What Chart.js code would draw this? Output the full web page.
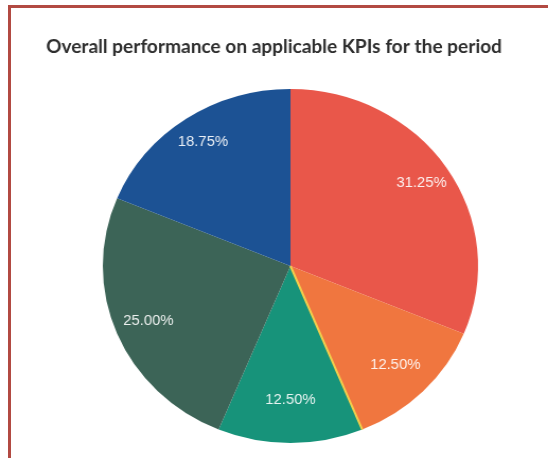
<!DOCTYPE html>
<html>
<head>
<meta charset="utf-8">
<script src="https://cdn.jsdelivr.net/npm/chart.js@4/dist/chart.umd.min.js"></script>
<style>
  html, body { margin: 0; padding: 0; background: #ffffff; }
  #page { position: relative; width: 548px; height: 458px; overflow: hidden; background: #fff; }
  #wrap { position: absolute; left: 0; top: 0; width: 517px; height: 458px; transform: scaleX(1.06); transform-origin: 0 0; }
  #frameTop { position: absolute; left: 8px; top: 5px; width: 540px; height: 3px; background: #b24a42; }
  #frameLeft { position: absolute; left: 8px; top: 5px; width: 3px; height: 453px; background: #b24a42; }
</style>
</head>
<body>
<div id="page">
  <div id="wrap"><canvas id="c" width="517" height="458"></canvas></div>
  <div id="frameTop"></div>
  <div id="frameLeft"></div>
</div>
<script>
const titleText = "Overall performance on applicable KPIs for the period";
const categories = ["Red", "Orange", "Yellow", "Green", "Grey", "Blue"];
const kpiCounts = [5, 2, 0, 2, 4, 3];
const sliceColors = ["#e9574a", "#f0763f", "#f2cf4c", "#17937a", "#3c6457", "#1c5294"];
const labelDistance = [0.84, 0.79, 0, 0.76, 0.82, 0.84];

const titlePlugin = {
  id: "canvasTitle",
  afterDraw(chart) {
    const ctx = chart.ctx;
    ctx.save();
    ctx.font = "bold 18px Lato, 'Open Sans', sans-serif";
    ctx.fillStyle = "#2e2e2e";
    ctx.textAlign = "center";
    ctx.textBaseline = "middle";
    ctx.fillText(titleText, chart.width / 2, 47);
    ctx.restore();
  }
};

const pctLabels = {
  id: "pctLabels",
  afterDatasetsDraw(chart) {
    const ctx = chart.ctx;
    const meta = chart.getDatasetMeta(0);
    const data = chart.data.datasets[0].data;
    const total = data.reduce((a, b) => a + b, 0);
    ctx.save();
    meta.data.forEach((arc, i) => {
      if (data[i] === 0) {
        const a = arc.startAngle;
        ctx.strokeStyle = sliceColors[i];
        ctx.lineWidth = 2;
        ctx.beginPath();
        ctx.moveTo(arc.x, arc.y);
        ctx.lineTo(arc.x + Math.cos(a) * arc.outerRadius, arc.y + Math.sin(a) * arc.outerRadius);
        ctx.stroke();
      }
    });
    ctx.font = "14px 'Liberation Sans', Arial, sans-serif";
    ctx.fillStyle = "rgba(255,255,255,0.9)";
    ctx.textAlign = "center";
    ctx.textBaseline = "middle";
    meta.data.forEach((arc, i) => {
      if (data[i] === 0) return;
      const mid = (arc.startAngle + arc.endAngle) / 2;
      const r = arc.outerRadius * labelDistance[i];
      const txt = (data[i] / total * 100).toFixed(2) + "%";
      ctx.fillText(txt, arc.x + Math.cos(mid) * r, arc.y + Math.sin(mid) * r);
    });
    ctx.restore();
  }
};

new Chart(document.getElementById("c"), {
  type: "pie",
  data: {
    labels: categories,
    datasets: [{
      data: kpiCounts,
      backgroundColor: sliceColors,
      borderWidth: 0
    }]
  },
  options: {
    responsive: false,
    animation: false,
    layout: { padding: { left: 31, right: 0, top: 89, bottom: 15 } },
    plugins: {
      legend: { display: false },
      tooltip: { enabled: false },
      title: { display: false }
    }
  },
  plugins: [pctLabels, titlePlugin]
});
</script>
</body>
</html>
